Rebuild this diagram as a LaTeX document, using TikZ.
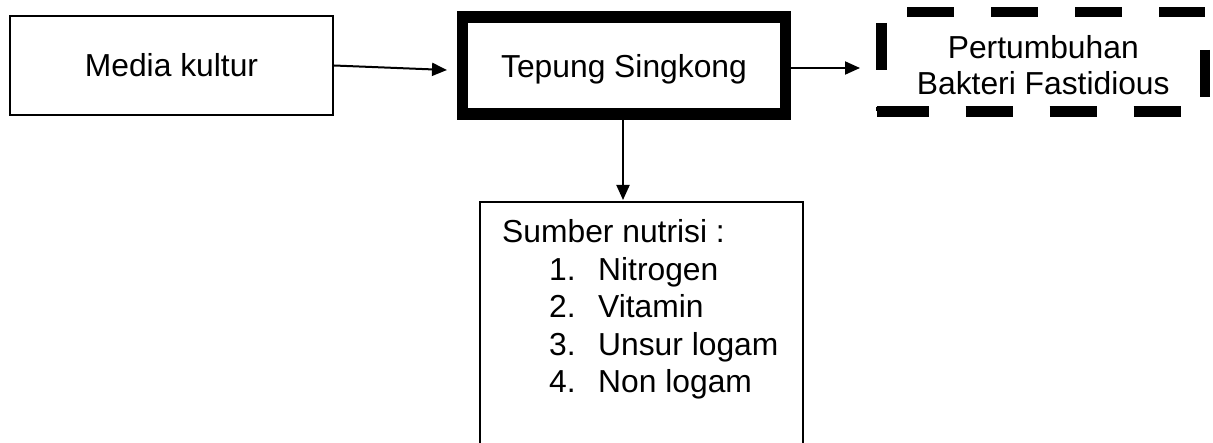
\documentclass[tikz,border=0pt]{standalone}
\usepackage{fontspec}
\setmainfont{Liberation Sans}
\usetikzlibrary{arrows.meta}

\tikzset{
  thinbox/.style={draw=black, line width=2pt, inner sep=0pt, minimum width=323pt},
  thickbox/.style={draw=black, line width=11.5pt, inner sep=0pt, minimum width=323pt, minimum height=97pt},
  label31/.style={font=\fontsize{31.8}{37.5}\selectfont, inner sep=0pt},
  dashside/.style={line width=10.5pt, draw=black},
  flow/.style={line width=2pt, -{Triangle[length=15pt,width=13pt]}},
}

\begin{document}
\begin{tikzpicture}[x=1pt, y=-1pt]
  \useasboundingbox (0,0) rectangle (1213,443);

  % boxes
  \node[thinbox, minimum height=99pt, label31] (media) at (171.5,65.5) {Media kultur};
  \node[thickbox, label31, text depth=0pt] (tepung) at (624,65.5) {Tepung Singkong};
  \node[label31, align=center] (growth) at (1043.25,65) {Pertumbuhan\\[-1.5pt]Bakteri Fastidious};
  \node[thinbox, minimum height=260pt, anchor=north] (nutrisi) at (641.5,201) {};
  \node[label31, align=left, anchor=north west] (nutrisiText) at (502,219.5)
       {Sumber nutrisi :\\
        \hspace*{47pt}\makebox[49pt][l]{1.}Nitrogen\\
        \hspace*{47pt}\makebox[49pt][l]{2.}Vitamin\\
        \hspace*{47pt}\makebox[49pt][l]{3.}Unsur logam\\
        \hspace*{47pt}\makebox[49pt][l]{4.}Non logam};

  % heavy dashed frame, one side at a time
  \coordinate (gNW) at (881.5,12);
  \coordinate (gNE) at (1205,12);
  \coordinate (gSW) at (881.5,111.5);
  \coordinate (gSE) at (1205,111.5);
  \coordinate (gSWx) at (876.5,111.5);
  \draw[dashside, dash pattern=on 47pt off 37pt, dash phase=58.5pt] (gNW) -- (gNE);
  \draw[dashside, dash pattern=on 47pt off 37pt, dash phase=73pt] (gNW) -- (gSW);
  \draw[dashside, dash pattern=on 52pt off 37pt on 47pt off 37pt on 47pt off 37pt on 47pt off 37pt] (gSWx) -- (gSE);
  \draw[dashside, dash pattern=on 47pt off 38pt, dash phase=47pt] (gNE) -- (gSE);

  % connectors
  \coordinate (tipA) at (447,70);
  \coordinate (tipB) at (860,68);
  \coordinate (tipC) at (623,200);
  \draw[flow] (media.east) -- (tipA);
  \draw[flow] (tepung.east |- tipB) -- (tipB);
  \draw[flow] (tepung.south -| tipC) -- (tipC);
\end{tikzpicture}
\end{document}
